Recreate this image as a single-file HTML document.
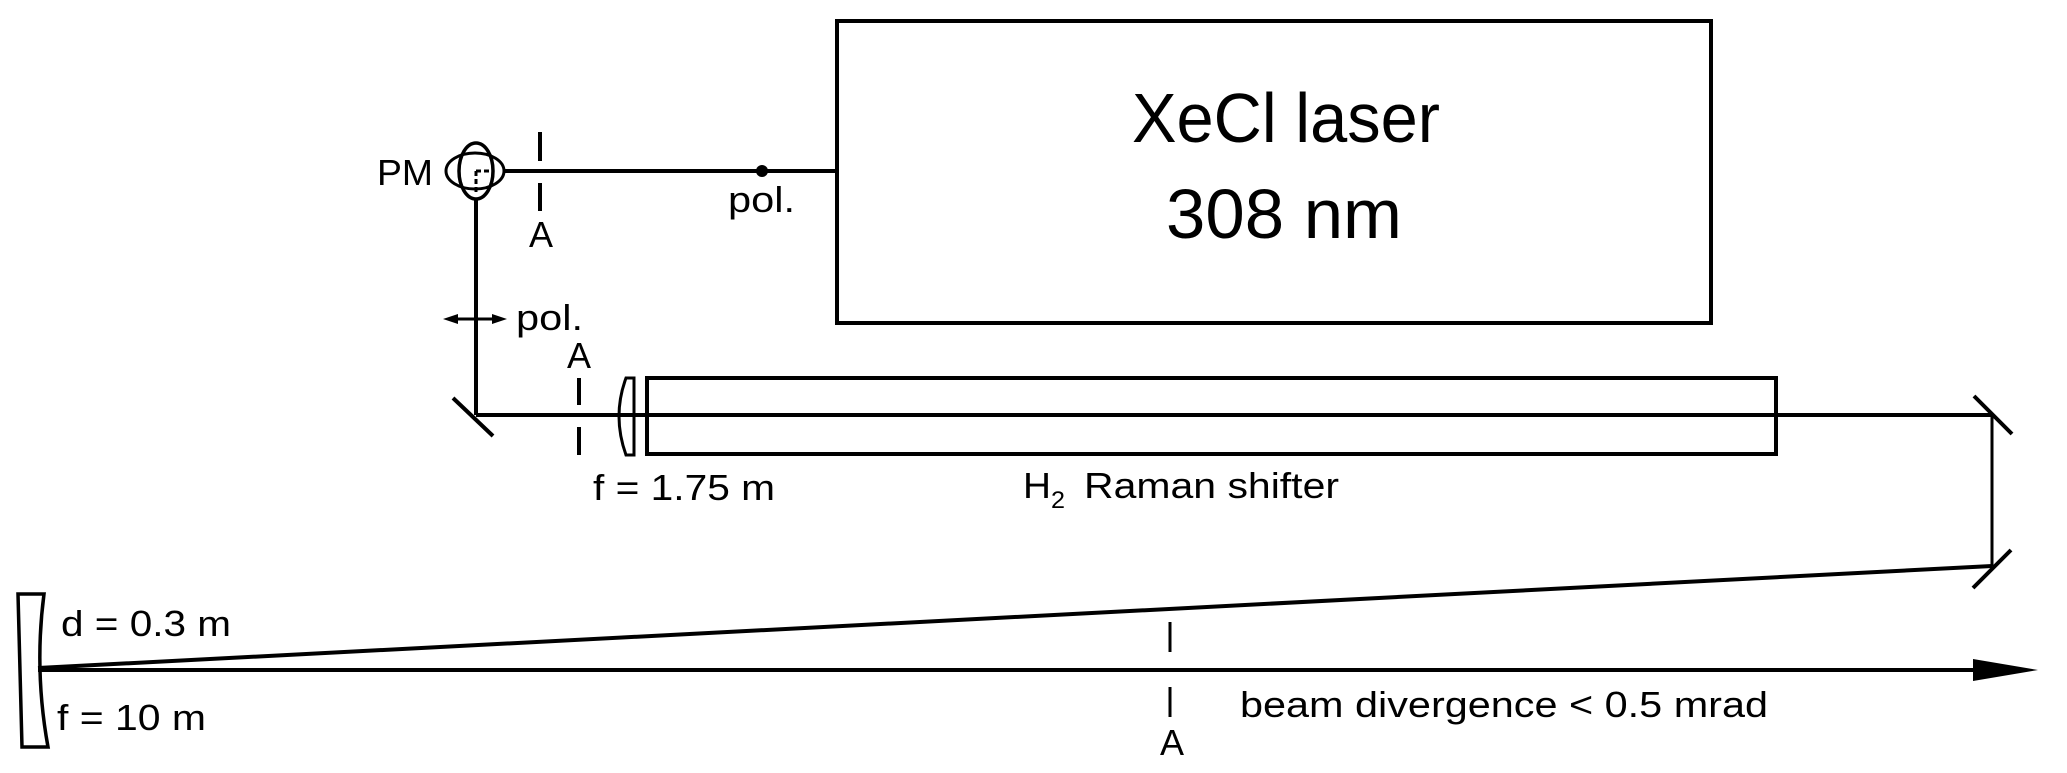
<!DOCTYPE html>
<html><head><meta charset="utf-8"><style>
html,body{margin:0;padding:0;background:#fff;}
svg{display:block;}
text{font-family:"Liberation Sans",sans-serif;fill:#000;}
</style></head><body>
<svg width="2067" height="773" viewBox="0 0 2067 773" xmlns="http://www.w3.org/2000/svg">
<g stroke="#000" stroke-width="4" fill="none">
<rect x="837" y="21" width="874" height="302"/>
<rect x="647" y="378" width="1129" height="76"/>
<line x1="504" y1="171" x2="837" y2="171"/>
<line x1="476" y1="199" x2="476" y2="415"/>
<line x1="476" y1="415" x2="1992" y2="415"/>
<line x1="453" y1="398" x2="493" y2="436"/>
<line x1="1974" y1="396" x2="2012" y2="434"/>
<line x1="2011" y1="550" x2="1973" y2="588"/>
<line x1="1992" y1="415" x2="1992" y2="566" stroke-width="3"/>
<line x1="1992" y1="566" x2="38" y2="668"/>
<line x1="38" y1="670" x2="1980" y2="670"/>
<line x1="540" y1="132" x2="540" y2="161"/>
<line x1="540" y1="183" x2="540" y2="211"/>
<line x1="579" y1="378" x2="579" y2="405"/>
<line x1="579" y1="427" x2="579" y2="455"/>
<line x1="1170" y1="622" x2="1170" y2="652" stroke-width="3"/>
<line x1="1170" y1="687" x2="1170" y2="717" stroke-width="3"/>
<ellipse cx="476" cy="171" rx="17" ry="28" stroke-width="3.5"/>
<ellipse cx="475" cy="171" rx="29" ry="18" stroke-width="3"/>
<path d="M476 171 H490 M476 171 V195" stroke-width="3" stroke-dasharray="5,3"/>
<path d="M626 378 H634 V455 H626 Q612 416 626 378 Z" stroke-width="3"/>
<path d="M18 594 H44 Q34 670 48 747 H22 Q20 670 18 594 Z" stroke-width="3.5"/>
<line x1="448" y1="319" x2="502" y2="319" stroke-width="3"/>
</g>
<polygon points="443,319 458,314 458,324" fill="#000"/>
<polygon points="507,319 492,314 492,324" fill="#000"/>
<circle cx="762" cy="171" r="6" fill="#000"/>
<polygon points="1973,659 2038,670 1973,681" fill="#000"/>
<g font-size="36">
<text x="377" y="185" textLength="56" lengthAdjust="spacingAndGlyphs">PM</text>
<text x="728" y="212" textLength="67" lengthAdjust="spacingAndGlyphs">pol.</text>
<text x="529" y="247">A</text>
<text x="516" y="330" textLength="67" lengthAdjust="spacingAndGlyphs">pol.</text>
<text x="567" y="368">A</text>
<text x="593" y="500" textLength="182" lengthAdjust="spacingAndGlyphs">f = 1.75 m</text>
<text x="1023" y="498" textLength="28" lengthAdjust="spacingAndGlyphs">H</text>
<text x="1051" y="508" font-size="24" textLength="14" lengthAdjust="spacingAndGlyphs">2</text>
<text x="1084" y="498" textLength="255" lengthAdjust="spacingAndGlyphs">Raman shifter</text>
<text x="61" y="636" textLength="170" lengthAdjust="spacingAndGlyphs">d = 0.3 m</text>
<text x="57" y="730" textLength="149" lengthAdjust="spacingAndGlyphs">f = 10 m</text>
<text x="1240" y="717" textLength="528" lengthAdjust="spacingAndGlyphs">beam divergence &lt; 0.5 mrad</text>
<text x="1160" y="755">A</text>
</g>
<text x="1132" y="142" font-size="70" textLength="308" lengthAdjust="spacingAndGlyphs">XeCl laser</text>
<text x="1166" y="238" font-size="70" textLength="236" lengthAdjust="spacingAndGlyphs">308 nm</text>
</svg>
</body></html>
